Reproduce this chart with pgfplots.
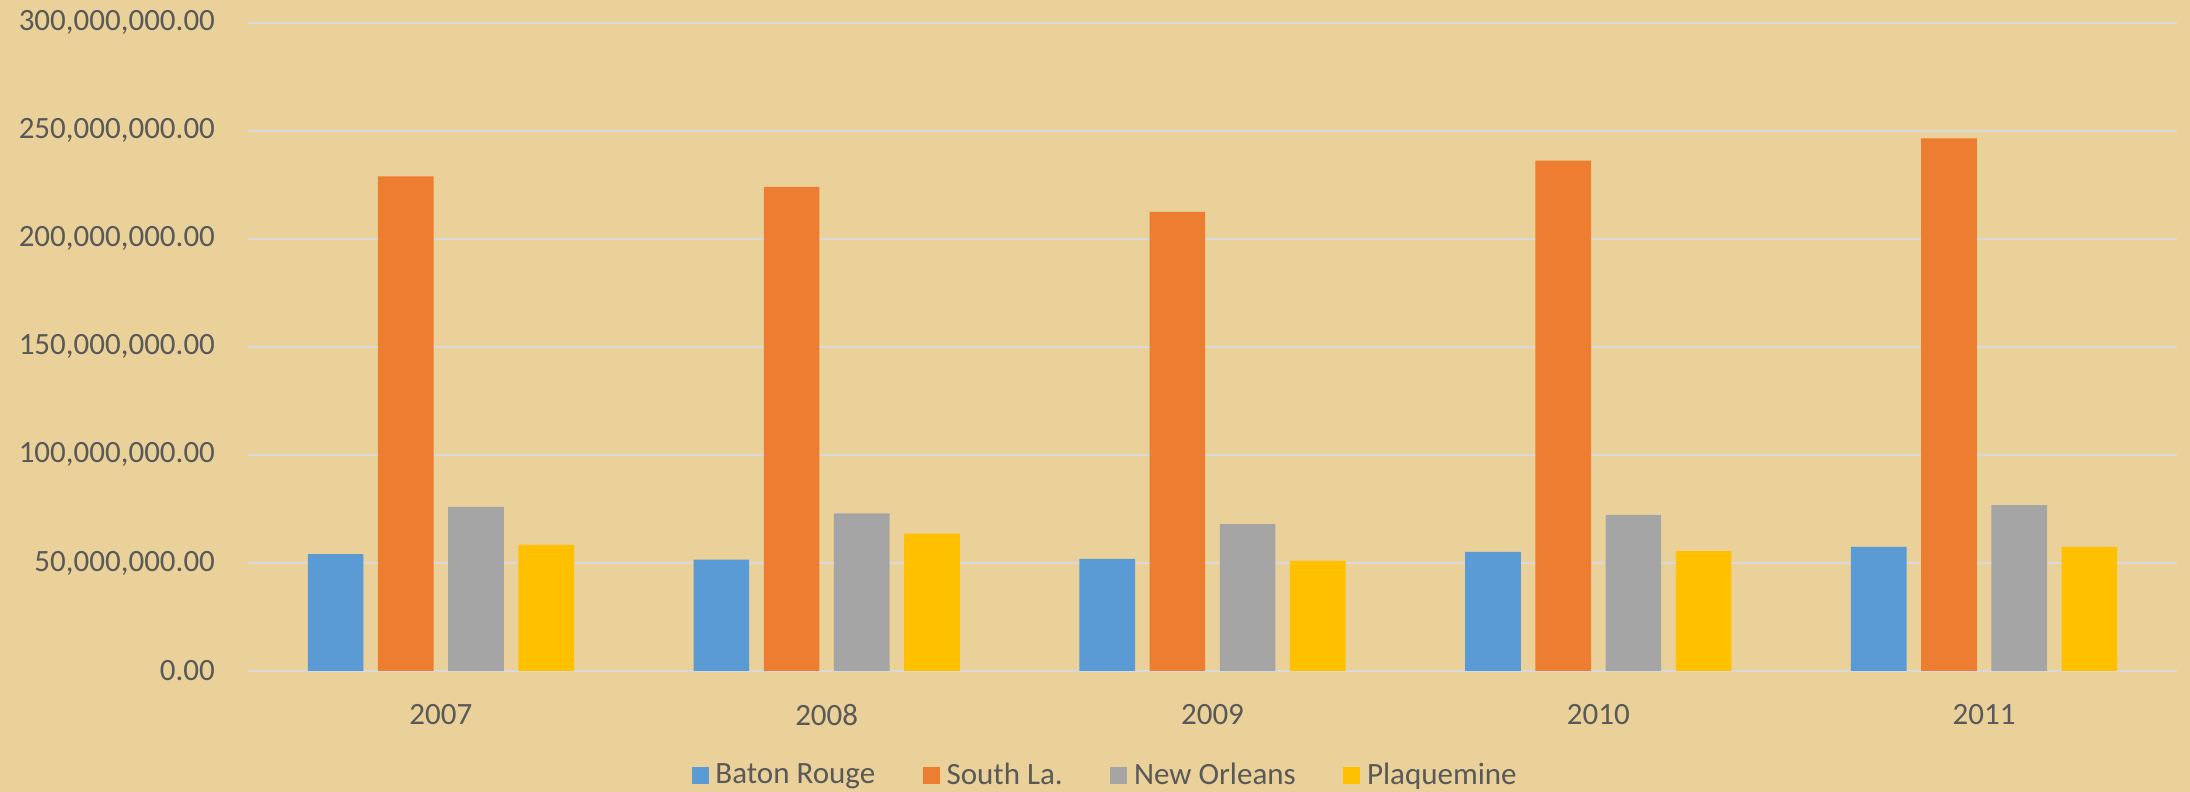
\documentclass[border=0pt]{standalone}
\usepackage{fontspec}
\setmainfont{Carlito}
\usepackage{pgfplots}
\pgfplotsset{compat=1.18}

\definecolor{paper}{RGB}{233,209,153}
\definecolor{txt}{HTML}{595959}
\definecolor{gridc}{HTML}{D9D9D9}
\definecolor{cBR}{HTML}{5B9BD5}
\definecolor{cSL}{HTML}{ED7D31}
\definecolor{cNO}{HTML}{A5A5A5}
\definecolor{cPQ}{HTML}{FFC000}

\begin{document}
\begin{tikzpicture}
% papyrus background (whole chart area)
\fill[paper] (-74.4pt,-36.3pt) rectangle (582.6pt,201.3pt);
\begin{axis}[
    at={(0,0)}, anchor=south west,
    scale only axis,
    width=578.7pt, height=194.5pt,
    ybar=4.36pt, bar width=16.7pt,
    xmin=-0.5, xmax=4.5,
    ymin=0, ymax=300000000,
    xtick={0,1,2,3,4},
    xticklabels={2007,2008,2009,2010,2011},
    ytick={0,50000000,100000000,150000000,200000000,250000000,300000000},
    scaled y ticks=false,
    yticklabel style={xshift=-6.4pt, /pgf/number format/.cd, fixed, fixed zerofill, precision=2, 1000 sep={,}, assume math mode=true},
    xticklabel style={yshift=-6.5pt},
    ticklabel style={font=\fontsize{9.3}{11}\selectfont, text=txt},
    major tick length=0pt,
    axis line style={draw=none},
    ymajorgrids=true,
    grid style={draw=gridc, line width=0.6pt},
    legend columns=4,
    legend style={
        at={(axis description cs:0.4456,0)}, anchor=center, yshift=-31.5pt,
        draw=none, fill=none, font=\fontsize{9.3}{11}\selectfont, text=txt,
        /tikz/every even column/.append style={column sep=12.3pt},
        inner sep=0pt,
    },
    legend image code/.code={\fill[#1] (0pt,-2.55pt) rectangle (5.1pt,2.55pt);},
    legend cell align=left,
]
\addplot[draw=none, fill=cBR] coordinates {(0,54100000) (1,51500000) (2,51900000) (3,55100000) (4,57400000)};
\addlegendentry{Baton Rouge}
\addplot[draw=none, fill=cSL] coordinates {(0,228900000) (1,224000000) (2,212400000) (3,236200000) (4,246500000)};
\addlegendentry{South La.}
\addplot[draw=none, fill=cNO] coordinates {(0,75900000) (1,72900000) (2,67900000) (3,72200000) (4,76800000)};
\addlegendentry{New Orleans}
\addplot[draw=none, fill=cPQ] coordinates {(0,58300000) (1,63600000) (2,50900000) (3,55500000) (4,57400000)};
\addlegendentry{Plaquemine}
\end{axis}
\pgfresetboundingbox
\path[use as bounding box] (-74.4pt,-36.3pt) rectangle (582.6pt,201.3pt);
\end{tikzpicture}
\end{document}
